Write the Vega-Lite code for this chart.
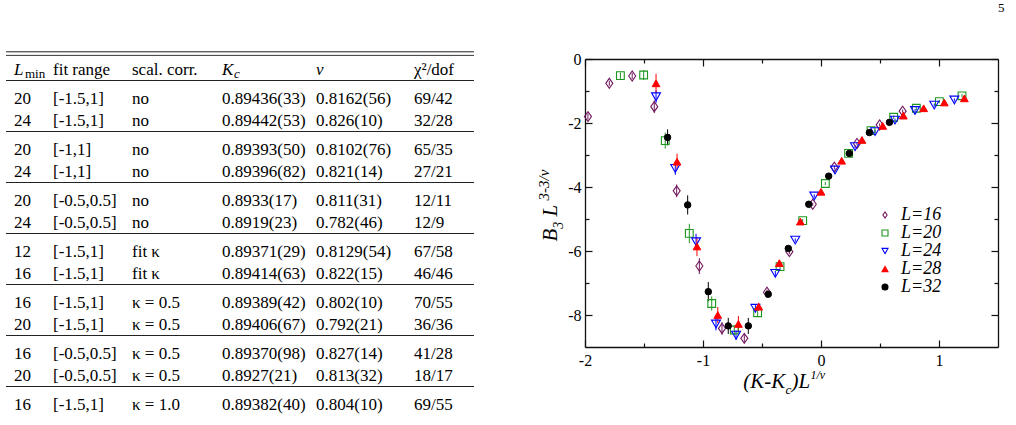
{
  "$schema": "https://vega.github.io/schema/vega-lite/v6.json",
  "background": "white",
  "padding": {"left": 5, "top": 2, "right": 0, "bottom": 0},
  "title": {"text": "5", "anchor": "end", "fontSize": 13, "font": "Liberation Serif", "fontWeight": "normal", "color": "black", "dx": 6, "offset": 36},
  "bounds": "flush",
  "spacing": 111,
  "datasets": {
    "body": [
      {"r": "1", "g": 1, "c": 0, "t": "20"}, {"r": "1", "g": 1, "c": 1, "t": "[-1.5,1]"}, {"r": "1", "g": 1, "c": 2, "t": "no"}, {"r": "1", "g": 1, "c": 3, "t": "0.89436(33)"}, {"r": "1", "g": 1, "c": 4, "t": "0.8162(56)"}, {"r": "1", "g": 1, "c": 5, "t": "69/42"},
      {"r": "2", "g": 1, "c": 0, "t": "24"}, {"r": "2", "g": 1, "c": 1, "t": "[-1.5,1]"}, {"r": "2", "g": 1, "c": 2, "t": "no"}, {"r": "2", "g": 1, "c": 3, "t": "0.89442(53)"}, {"r": "2", "g": 1, "c": 4, "t": "0.826(10)"}, {"r": "2", "g": 1, "c": 5, "t": "32/28"},
      {"r": "3", "g": 2, "c": 0, "t": "20"}, {"r": "3", "g": 2, "c": 1, "t": "[-1,1]"}, {"r": "3", "g": 2, "c": 2, "t": "no"}, {"r": "3", "g": 2, "c": 3, "t": "0.89393(50)"}, {"r": "3", "g": 2, "c": 4, "t": "0.8102(76)"}, {"r": "3", "g": 2, "c": 5, "t": "65/35"},
      {"r": "4", "g": 2, "c": 0, "t": "24"}, {"r": "4", "g": 2, "c": 1, "t": "[-1,1]"}, {"r": "4", "g": 2, "c": 2, "t": "no"}, {"r": "4", "g": 2, "c": 3, "t": "0.89396(82)"}, {"r": "4", "g": 2, "c": 4, "t": "0.821(14)"}, {"r": "4", "g": 2, "c": 5, "t": "27/21"},
      {"r": "5", "g": 3, "c": 0, "t": "20"}, {"r": "5", "g": 3, "c": 1, "t": "[-0.5,0.5]"}, {"r": "5", "g": 3, "c": 2, "t": "no"}, {"r": "5", "g": 3, "c": 3, "t": "0.8933(17)"}, {"r": "5", "g": 3, "c": 4, "t": "0.811(31)"}, {"r": "5", "g": 3, "c": 5, "t": "12/11"},
      {"r": "6", "g": 3, "c": 0, "t": "24"}, {"r": "6", "g": 3, "c": 1, "t": "[-0.5,0.5]"}, {"r": "6", "g": 3, "c": 2, "t": "no"}, {"r": "6", "g": 3, "c": 3, "t": "0.8919(23)"}, {"r": "6", "g": 3, "c": 4, "t": "0.782(46)"}, {"r": "6", "g": 3, "c": 5, "t": "12/9"},
      {"r": "7", "g": 4, "c": 0, "t": "12"}, {"r": "7", "g": 4, "c": 1, "t": "[-1.5,1]"}, {"r": "7", "g": 4, "c": 2, "t": "fit κ"}, {"r": "7", "g": 4, "c": 3, "t": "0.89371(29)"}, {"r": "7", "g": 4, "c": 4, "t": "0.8129(54)"}, {"r": "7", "g": 4, "c": 5, "t": "67/58"},
      {"r": "8", "g": 4, "c": 0, "t": "16"}, {"r": "8", "g": 4, "c": 1, "t": "[-1.5,1]"}, {"r": "8", "g": 4, "c": 2, "t": "fit κ"}, {"r": "8", "g": 4, "c": 3, "t": "0.89414(63)"}, {"r": "8", "g": 4, "c": 4, "t": "0.822(15)"}, {"r": "8", "g": 4, "c": 5, "t": "46/46"},
      {"r": "9", "g": 5, "c": 0, "t": "16"}, {"r": "9", "g": 5, "c": 1, "t": "[-1.5,1]"}, {"r": "9", "g": 5, "c": 2, "t": "κ = 0.5"}, {"r": "9", "g": 5, "c": 3, "t": "0.89389(42)"}, {"r": "9", "g": 5, "c": 4, "t": "0.802(10)"}, {"r": "9", "g": 5, "c": 5, "t": "70/55"},
      {"r": "10", "g": 5, "c": 0, "t": "20"}, {"r": "10", "g": 5, "c": 1, "t": "[-1.5,1]"}, {"r": "10", "g": 5, "c": 2, "t": "κ = 0.5"}, {"r": "10", "g": 5, "c": 3, "t": "0.89406(67)"}, {"r": "10", "g": 5, "c": 4, "t": "0.792(21)"}, {"r": "10", "g": 5, "c": 5, "t": "36/36"},
      {"r": "11", "g": 6, "c": 0, "t": "16"}, {"r": "11", "g": 6, "c": 1, "t": "[-0.5,0.5]"}, {"r": "11", "g": 6, "c": 2, "t": "κ = 0.5"}, {"r": "11", "g": 6, "c": 3, "t": "0.89370(98)"}, {"r": "11", "g": 6, "c": 4, "t": "0.827(14)"}, {"r": "11", "g": 6, "c": 5, "t": "41/28"},
      {"r": "12", "g": 6, "c": 0, "t": "20"}, {"r": "12", "g": 6, "c": 1, "t": "[-0.5,0.5]"}, {"r": "12", "g": 6, "c": 2, "t": "κ = 0.5"}, {"r": "12", "g": 6, "c": 3, "t": "0.8927(21)"}, {"r": "12", "g": 6, "c": 4, "t": "0.813(32)"}, {"r": "12", "g": 6, "c": 5, "t": "18/17"},
      {"r": "13", "g": 7, "c": 0, "t": "16"}, {"r": "13", "g": 7, "c": 1, "t": "[-1.5,1]"}, {"r": "13", "g": 7, "c": 2, "t": "κ = 1.0"}, {"r": "13", "g": 7, "c": 3, "t": "0.89382(40)"}, {"r": "13", "g": 7, "c": 4, "t": "0.804(10)"}, {"r": "13", "g": 7, "c": 5, "t": "69/55"}
    ],
    "head": [
      {"r": "h", "g": 0, "c": 1, "t": "fit range"},
      {"r": "h", "g": 0, "c": 2, "t": "scal. corr."},
      {"r": "h", "g": 0, "c": 5, "t": "χ²/dof"}
    ],
    "headMath": [
      {"r": "h", "g": 0, "c": 0, "t": "L"},
      {"r": "h", "g": 0, "c": 3, "t": "K"},
      {"r": "h", "g": 0, "c": 4, "t": "ν"}
    ],
    "subMin": [{"r": "h", "g": 0, "c": 0, "t": "min"}],
    "subC": [{"r": "h", "g": 0, "c": 3, "t": "c"}],
    "seps": [
      {"r": "h", "g": 0}, {"r": "2", "g": 1}, {"r": "4", "g": 2}, {"r": "6", "g": 3},
      {"r": "8", "g": 4}, {"r": "10", "g": 5}, {"r": "12", "g": 6}
    ],
    "topRule": [{"r": "h"}],
    "pts": [
      {"L": "L=16", "x": -1.975, "y": -1.80, "lo": -1.90, "hi": -1.70},
      {"L": "L=16", "x": -1.794, "y": -0.76, "lo": -0.84, "hi": -0.68},
      {"L": "L=16", "x": -1.60, "y": -0.53, "lo": -0.63, "hi": -0.43},
      {"L": "L=16", "x": -1.413, "y": -1.49, "lo": -1.69, "hi": -1.29},
      {"L": "L=16", "x": -1.223, "y": -4.12, "lo": -4.32, "hi": -3.92},
      {"L": "L=16", "x": -1.031, "y": -6.47, "lo": -6.72, "hi": -6.22},
      {"L": "L=16", "x": -0.839, "y": -8.42, "lo": -8.62, "hi": -8.22},
      {"L": "L=16", "x": -0.65, "y": -8.73, "lo": -8.85, "hi": -8.61},
      {"L": "L=16", "x": -0.458, "y": -7.29, "lo": -7.37, "hi": -7.21},
      {"L": "L=16", "x": -0.268, "y": -6.02, "lo": -6.10, "hi": -5.94},
      {"L": "L=16", "x": -0.07, "y": -4.54, "lo": -4.59, "hi": -4.49},
      {"L": "L=16", "x": 0.113, "y": -3.38, "lo": -3.43, "hi": -3.33},
      {"L": "L=16", "x": 0.305, "y": -2.64, "lo": -2.69, "hi": -2.59},
      {"L": "L=16", "x": 0.497, "y": -2.06, "lo": -2.11, "hi": -2.01},
      {"L": "L=16", "x": 0.692, "y": -1.63, "lo": -1.68, "hi": -1.58},
      {"L": "L=20", "x": -1.70, "y": -0.52, "lo": -0.62, "hi": -0.42},
      {"L": "L=20", "x": -1.503, "y": -0.50, "lo": -0.65, "hi": -0.35},
      {"L": "L=20", "x": -1.32, "y": -2.55, "lo": -2.80, "hi": -2.30},
      {"L": "L=20", "x": -1.116, "y": -5.45, "lo": -5.75, "hi": -5.15},
      {"L": "L=20", "x": -0.926, "y": -7.64, "lo": -7.86, "hi": -7.42},
      {"L": "L=20", "x": -0.735, "y": -8.47, "lo": -8.62, "hi": -8.32},
      {"L": "L=20", "x": -0.537, "y": -7.93, "lo": -8.05, "hi": -7.81},
      {"L": "L=20", "x": -0.347, "y": -6.49, "lo": -6.57, "hi": -6.41},
      {"L": "L=20", "x": -0.155, "y": -5.05, "lo": -5.10, "hi": -5.00},
      {"L": "L=20", "x": 0.037, "y": -3.89, "lo": -3.94, "hi": -3.84},
      {"L": "L=20", "x": 0.234, "y": -2.95, "lo": -3.00, "hi": -2.90},
      {"L": "L=20", "x": 0.424, "y": -2.24, "lo": -2.29, "hi": -2.19},
      {"L": "L=20", "x": 0.616, "y": -1.82, "lo": -1.87, "hi": -1.77},
      {"L": "L=20", "x": 0.808, "y": -1.54, "lo": -1.59, "hi": -1.49},
      {"L": "L=20", "x": 1.003, "y": -1.33, "lo": -1.38, "hi": -1.28},
      {"L": "L=20", "x": 1.195, "y": -1.15, "lo": -1.20, "hi": -1.10},
      {"L": "L=24", "x": -1.398, "y": -1.18, "lo": -1.38, "hi": -0.98},
      {"L": "L=24", "x": -1.235, "y": -3.42, "lo": -3.62, "hi": -3.22},
      {"L": "L=24", "x": -1.059, "y": -5.71, "lo": -5.96, "hi": -5.46},
      {"L": "L=24", "x": -0.89, "y": -8.28, "lo": -8.48, "hi": -8.08},
      {"L": "L=24", "x": -0.72, "y": -8.63, "lo": -8.78, "hi": -8.48},
      {"L": "L=24", "x": -0.556, "y": -7.79, "lo": -7.89, "hi": -7.69},
      {"L": "L=24", "x": -0.387, "y": -6.70, "lo": -6.78, "hi": -6.62},
      {"L": "L=24", "x": -0.218, "y": -5.66, "lo": -5.71, "hi": -5.61},
      {"L": "L=24", "x": -0.057, "y": -4.28, "lo": -4.33, "hi": -4.23},
      {"L": "L=24", "x": 0.119, "y": -3.47, "lo": -3.52, "hi": -3.42},
      {"L": "L=24", "x": 0.288, "y": -2.74, "lo": -2.79, "hi": -2.69},
      {"L": "L=24", "x": 0.458, "y": -2.27, "lo": -2.32, "hi": -2.22},
      {"L": "L=24", "x": 0.627, "y": -1.91, "lo": -1.96, "hi": -1.86},
      {"L": "L=24", "x": 0.797, "y": -1.61, "lo": -1.66, "hi": -1.56},
      {"L": "L=24", "x": 0.96, "y": -1.44, "lo": -1.49, "hi": -1.39},
      {"L": "L=24", "x": 1.13, "y": -1.28, "lo": -1.33, "hi": -1.23},
      {"L": "L=28", "x": -1.398, "y": -0.76, "lo": -1.06, "hi": -0.46},
      {"L": "L=28", "x": -1.22, "y": -3.21, "lo": -3.46, "hi": -2.96},
      {"L": "L=28", "x": -1.051, "y": -5.86, "lo": -6.16, "hi": -5.56},
      {"L": "L=28", "x": -0.875, "y": -8.00, "lo": -8.25, "hi": -7.75},
      {"L": "L=28", "x": -0.70, "y": -8.28, "lo": -8.53, "hi": -8.03},
      {"L": "L=28", "x": -0.528, "y": -7.74, "lo": -7.86, "hi": -7.62},
      {"L": "L=28", "x": -0.353, "y": -6.38, "lo": -6.48, "hi": -6.28},
      {"L": "L=28", "x": -0.175, "y": -5.08, "lo": -5.13, "hi": -5.03},
      {"L": "L=28", "x": 0.0, "y": -4.15, "lo": -4.20, "hi": -4.10},
      {"L": "L=28", "x": 0.175, "y": -3.18, "lo": -3.23, "hi": -3.13},
      {"L": "L=28", "x": 0.347, "y": -2.53, "lo": -2.58, "hi": -2.48},
      {"L": "L=28", "x": 0.523, "y": -2.09, "lo": -2.14, "hi": -2.04},
      {"L": "L=28", "x": 0.698, "y": -1.77, "lo": -1.82, "hi": -1.72},
      {"L": "L=28", "x": 0.87, "y": -1.54, "lo": -1.59, "hi": -1.49},
      {"L": "L=28", "x": 1.045, "y": -1.36, "lo": -1.41, "hi": -1.31},
      {"L": "L=28", "x": 1.215, "y": -1.23, "lo": -1.28, "hi": -1.18},
      {"L": "L=32", "x": -1.30, "y": -2.45, "lo": -2.70, "hi": -2.20},
      {"L": "L=32", "x": -1.13, "y": -4.56, "lo": -4.86, "hi": -4.26},
      {"L": "L=32", "x": -0.955, "y": -7.27, "lo": -7.57, "hi": -6.97},
      {"L": "L=32", "x": -0.786, "y": -8.34, "lo": -8.59, "hi": -8.09},
      {"L": "L=32", "x": -0.616, "y": -8.34, "lo": -8.59, "hi": -8.09},
      {"L": "L=32", "x": -0.447, "y": -7.35, "lo": -7.43, "hi": -7.27},
      {"L": "L=32", "x": -0.277, "y": -5.92, "lo": -6.00, "hi": -5.84},
      {"L": "L=32", "x": -0.104, "y": -4.54, "lo": -4.59, "hi": -4.49},
      {"L": "L=32", "x": 0.065, "y": -3.66, "lo": -3.71, "hi": -3.61},
      {"L": "L=32", "x": 0.24, "y": -2.95, "lo": -3.00, "hi": -2.90},
      {"L": "L=32", "x": 0.41, "y": -2.30, "lo": -2.35, "hi": -2.25},
      {"L": "L=32", "x": 0.58, "y": -1.98, "lo": -2.03, "hi": -1.93}
    ]
  },
  "hconcat": [
    {
      "width": 468,
      "height": 301,
      "resolve": {"scale": {"yOffset": "independent"}},
      "layer": [
        {
          "data": {"name": "body"},
          "mark": {"type": "text", "align": "left", "baseline": "middle", "font": "Liberation Serif", "fontSize": 17, "color": "black"},
          "encoding": {
            "x": {"field": "c", "type": "quantitative", "axis": null, "scale": {"domain": [0, 1, 2, 3, 4, 5], "range": [8, 47, 126, 216, 310, 408], "nice": false, "zero": false}},
            "y": {"field": "r", "type": "ordinal", "axis": null, "scale": {"domain": ["h", "1", "2", "3", "4", "5", "6", "7", "8", "9", "10", "11", "12", "13"], "paddingInner": 0, "paddingOuter": 0}},
            "yOffset": {"field": "g", "type": "quantitative", "scale": {"domain": [0, 7], "range": [10.75, 66.75], "nice": false, "zero": false}},
            "text": {"field": "t", "type": "nominal"}
          }
        },
        {
          "data": {"name": "head"},
          "mark": {"type": "text", "align": "left", "baseline": "middle", "font": "Liberation Serif", "fontSize": 17, "color": "black"},
          "encoding": {
            "x": {"field": "c", "type": "quantitative", "axis": null, "scale": {"domain": [0, 1, 2, 3, 4, 5], "range": [8, 47, 126, 216, 310, 408], "nice": false, "zero": false}},
            "y": {"field": "r", "type": "ordinal", "axis": null, "scale": {"domain": ["h", "1", "2", "3", "4", "5", "6", "7", "8", "9", "10", "11", "12", "13"], "paddingInner": 0, "paddingOuter": 0}},
            "yOffset": {"field": "g", "type": "quantitative", "scale": {"domain": [0, 7], "range": [10.75, 66.75], "nice": false, "zero": false}},
            "text": {"field": "t", "type": "nominal"}
          }
        },
        {
          "data": {"name": "headMath"},
          "mark": {"type": "text", "align": "left", "baseline": "middle", "font": "Liberation Serif", "fontStyle": "italic", "fontSize": 17, "color": "black"},
          "encoding": {
            "x": {"field": "c", "type": "quantitative", "axis": null, "scale": {"domain": [0, 1, 2, 3, 4, 5], "range": [8, 47, 126, 216, 310, 408], "nice": false, "zero": false}},
            "y": {"field": "r", "type": "ordinal", "axis": null, "scale": {"domain": ["h", "1", "2", "3", "4", "5", "6", "7", "8", "9", "10", "11", "12", "13"], "paddingInner": 0, "paddingOuter": 0}},
            "yOffset": {"field": "g", "type": "quantitative", "scale": {"domain": [0, 7], "range": [10.75, 66.75], "nice": false, "zero": false}},
            "text": {"field": "t", "type": "nominal"}
          }
        },
        {
          "data": {"name": "subMin"},
          "mark": {"type": "text", "align": "left", "baseline": "middle", "font": "Liberation Serif", "fontSize": 13, "color": "black", "dx": 11, "dy": 4},
          "encoding": {
            "x": {"field": "c", "type": "quantitative", "axis": null, "scale": {"domain": [0, 1, 2, 3, 4, 5], "range": [8, 47, 126, 216, 310, 408], "nice": false, "zero": false}},
            "y": {"field": "r", "type": "ordinal", "axis": null, "scale": {"domain": ["h", "1", "2", "3", "4", "5", "6", "7", "8", "9", "10", "11", "12", "13"], "paddingInner": 0, "paddingOuter": 0}},
            "yOffset": {"field": "g", "type": "quantitative", "scale": {"domain": [0, 7], "range": [10.75, 66.75], "nice": false, "zero": false}},
            "text": {"field": "t", "type": "nominal"}
          }
        },
        {
          "data": {"name": "subC"},
          "mark": {"type": "text", "align": "left", "baseline": "middle", "font": "Liberation Serif", "fontStyle": "italic", "fontSize": 13, "color": "black", "dx": 12, "dy": 4},
          "encoding": {
            "x": {"field": "c", "type": "quantitative", "axis": null, "scale": {"domain": [0, 1, 2, 3, 4, 5], "range": [8, 47, 126, 216, 310, 408], "nice": false, "zero": false}},
            "y": {"field": "r", "type": "ordinal", "axis": null, "scale": {"domain": ["h", "1", "2", "3", "4", "5", "6", "7", "8", "9", "10", "11", "12", "13"], "paddingInner": 0, "paddingOuter": 0}},
            "yOffset": {"field": "g", "type": "quantitative", "scale": {"domain": [0, 7], "range": [10.75, 66.75], "nice": false, "zero": false}},
            "text": {"field": "t", "type": "nominal"}
          }
        },
        {
          "data": {"name": "seps"},
          "mark": {"type": "rule", "color": "#222222", "strokeWidth": 1},
          "encoding": {
            "y": {"field": "r", "type": "ordinal", "axis": null, "scale": {"domain": ["h", "1", "2", "3", "4", "5", "6", "7", "8", "9", "10", "11", "12", "13"], "paddingInner": 0, "paddingOuter": 0}},
            "yOffset": {"field": "g", "type": "quantitative", "scale": {"domain": [0, 7], "range": [21.5, 77.5], "nice": false, "zero": false}}
          }
        },
        {
          "data": {"name": "topRule"},
          "mark": {"type": "rule", "color": "#222222", "strokeWidth": 1, "yOffset": -7.2},
          "encoding": {
            "y": {"field": "r", "type": "ordinal", "axis": null, "bandPosition": 0, "scale": {"domain": ["h", "1", "2", "3", "4", "5", "6", "7", "8", "9", "10", "11", "12", "13"], "paddingInner": 0, "paddingOuter": 0}}
          }
        },
        {
          "data": {"name": "topRule"},
          "mark": {"type": "rule", "color": "#222222", "strokeWidth": 0.9, "yOffset": -3.6},
          "encoding": {
            "y": {"field": "r", "type": "ordinal", "axis": null, "bandPosition": 0, "scale": {"domain": ["h", "1", "2", "3", "4", "5", "6", "7", "8", "9", "10", "11", "12", "13"], "paddingInner": 0, "paddingOuter": 0}}
          }
        }
      ]
    },
    {
      "width": 413,
      "height": 288,
      "data": {"name": "pts"},
      "resolve": {"axis": {"x": "independent", "y": "independent"}},
      "layer": [
        {
          "mark": {"type": "rule", "strokeWidth": 1},
          "encoding": {
            "x": {"field": "x", "type": "quantitative", "scale": {"domain": [-2, 1.5], "nice": false, "zero": false},
              "axis": {"orient": "bottom", "values": [-2, -1, 0, 1], "labelExpr": "datum.value < 0 ? '-' + abs(datum.value) : '' + datum.value", "tickSize": -7, "labelPadding": 12, "domain": true,
                "title": "(K-K", "titleX": 157.7, "titleY": 40, "titleFontSize": 21, "titleAngle": 0, "titleAlign": "left", "titleBaseline": "alphabetic"}},
            "y": {"field": "lo", "type": "quantitative", "scale": {"domain": [-9, 0], "nice": false, "zero": false},
              "axis": {"orient": "left", "values": [0, -2, -4, -6, -8], "labelExpr": "datum.value < 0 ? '-' + abs(datum.value) : '' + datum.value", "tickSize": -7, "labelPadding": 11, "domain": true,
                "title": "B", "titleX": -29, "titleY": 182, "titleFontSize": 21, "titleAngle": -90, "titleAlign": "left", "titleBaseline": "alphabetic"}},
            "y2": {"field": "hi"},
            "stroke": {"field": "L", "type": "nominal", "scale": {"domain": ["L=16", "L=20", "L=24", "L=28", "L=32"], "range": ["#72185e", "#1c961c", "#0000ff", "#ff0000", "#000000"]},
              "legend": {"orient": "none", "legendX": 870, "legendY": 147, "title": null}}
          }
        },
        {
          "transform": [{"filter": {"field": "L", "equal": "L=16"}}],
          "mark": {"type": "point", "filled": true, "opacity": 1, "strokeWidth": 1.1, "size": 100},
          "encoding": {
            "x": {"field": "x", "type": "quantitative", "scale": {"domain": [-2, 1.5], "nice": false, "zero": false},
              "axis": {"orient": "bottom", "values": [-1.5, -0.5, 0.5], "labels": false, "domain": false, "tickSize": -4,
                "title": "c", "titleX": 200, "titleY": 46, "titleFontSize": 13, "titleAngle": 0, "titleAlign": "left", "titleBaseline": "alphabetic"}},
            "y": {"field": "y", "type": "quantitative", "scale": {"domain": [-9, 0], "nice": false, "zero": false},
              "axis": {"orient": "left", "values": [-1, -3, -5, -7], "labels": false, "domain": false, "tickSize": -4,
                "title": "3", "titleX": -23, "titleY": 169.2, "titleFontSize": 14, "titleAngle": -90, "titleAlign": "left", "titleBaseline": "alphabetic"}},
            "stroke": {"field": "L", "type": "nominal", "scale": {"domain": ["L=16", "L=20", "L=24", "L=28", "L=32"], "range": ["#72185e", "#1c961c", "#0000ff", "#ff0000", "#000000"]},
              "legend": {"orient": "none", "legendX": 870, "legendY": 147, "title": null}},
            "fill": {"field": "L", "type": "nominal", "scale": {"domain": ["L=16", "L=20", "L=24", "L=28", "L=32"], "range": ["transparent", "transparent", "transparent", "#ff0000", "#000000"]},
              "legend": {"orient": "none", "legendX": 870, "legendY": 147, "title": null}},
            "shape": {"field": "L", "type": "nominal", "scale": {"domain": ["L=16", "L=20", "L=24", "L=28", "L=32"], "range": ["M-0.7,0L0,-1L0.7,0L0,1Z", "square", "triangle-down", "triangle-up", "circle"]},
              "legend": {"orient": "none", "legendX": 870, "legendY": 147, "title": null}}
          }
        },
        {
          "transform": [{"filter": {"field": "L", "equal": "L=20"}}],
          "mark": {"type": "point", "filled": true, "opacity": 1, "strokeWidth": 1.1, "size": 60},
          "encoding": {
            "x": {"field": "x", "type": "quantitative", "scale": {"domain": [-2, 1.5], "nice": false, "zero": false},
              "axis": {"orient": "top", "values": [-2, -1, 0, 1], "labels": false, "domain": true, "tickSize": -7,
                "title": ")L", "titleX": 206, "titleY": 328, "titleFontSize": 21, "titleAngle": 0, "titleAlign": "left", "titleBaseline": "alphabetic"}},
            "y": {"field": "y", "type": "quantitative", "scale": {"domain": [-9, 0], "nice": false, "zero": false},
              "axis": {"orient": "right", "values": [0, -2, -4, -6, -8], "labels": false, "domain": true, "tickSize": -7,
                "title": "L", "titleX": -442, "titleY": 157, "titleFontSize": 21, "titleAngle": -90, "titleAlign": "left", "titleBaseline": "alphabetic"}},
            "stroke": {"field": "L", "type": "nominal", "scale": {"domain": ["L=16", "L=20", "L=24", "L=28", "L=32"], "range": ["#72185e", "#1c961c", "#0000ff", "#ff0000", "#000000"]},
              "legend": {"orient": "none", "legendX": 870, "legendY": 147, "title": null}},
            "fill": {"field": "L", "type": "nominal", "scale": {"domain": ["L=16", "L=20", "L=24", "L=28", "L=32"], "range": ["transparent", "transparent", "transparent", "#ff0000", "#000000"]},
              "legend": {"orient": "none", "legendX": 870, "legendY": 147, "title": null}},
            "shape": {"field": "L", "type": "nominal", "scale": {"domain": ["L=16", "L=20", "L=24", "L=28", "L=32"], "range": ["M-0.7,0L0,-1L0.7,0L0,1Z", "square", "triangle-down", "triangle-up", "circle"]},
              "legend": {"orient": "none", "legendX": 870, "legendY": 147, "title": null}}
          }
        },
        {
          "transform": [{"filter": {"field": "L", "equal": "L=24"}}],
          "mark": {"type": "point", "filled": true, "opacity": 1, "strokeWidth": 1.1, "size": 80},
          "encoding": {
            "x": {"field": "x", "type": "quantitative", "scale": {"domain": [-2, 1.5], "nice": false, "zero": false},
              "axis": {"orient": "top", "values": [-1.5, -0.5, 0.5], "labels": false, "domain": false, "tickSize": -4,
                "title": "1/ν", "titleX": 225, "titleY": 319, "titleFontSize": 12, "titleAngle": 0, "titleAlign": "left", "titleBaseline": "alphabetic"}},
            "y": {"field": "y", "type": "quantitative", "scale": {"domain": [-9, 0], "nice": false, "zero": false},
              "axis": {"orient": "right", "values": [-1, -3, -5, -7], "labels": false, "domain": false, "tickSize": -4,
                "title": "3-3/ν", "titleX": -450, "titleY": 141, "titleFontSize": 15, "titleAngle": -90, "titleAlign": "left", "titleBaseline": "alphabetic"}},
            "stroke": {"field": "L", "type": "nominal", "scale": {"domain": ["L=16", "L=20", "L=24", "L=28", "L=32"], "range": ["#72185e", "#1c961c", "#0000ff", "#ff0000", "#000000"]},
              "legend": {"orient": "none", "legendX": 870, "legendY": 147, "title": null}},
            "fill": {"field": "L", "type": "nominal", "scale": {"domain": ["L=16", "L=20", "L=24", "L=28", "L=32"], "range": ["transparent", "transparent", "transparent", "#ff0000", "#000000"]},
              "legend": {"orient": "none", "legendX": 870, "legendY": 147, "title": null}},
            "shape": {"field": "L", "type": "nominal", "scale": {"domain": ["L=16", "L=20", "L=24", "L=28", "L=32"], "range": ["M-0.7,0L0,-1L0.7,0L0,1Z", "square", "triangle-down", "triangle-up", "circle"]},
              "legend": {"orient": "none", "legendX": 870, "legendY": 147, "title": null}}
          }
        },
        {
          "transform": [{"filter": {"field": "L", "equal": "L=28"}}],
          "mark": {"type": "point", "filled": true, "opacity": 1, "strokeWidth": 1, "size": 60},
          "encoding": {
            "x": {"field": "x", "type": "quantitative", "axis": null, "scale": {"domain": [-2, 1.5], "nice": false, "zero": false}},
            "y": {"field": "y", "type": "quantitative", "axis": null, "scale": {"domain": [-9, 0], "nice": false, "zero": false}},
            "stroke": {"field": "L", "type": "nominal", "scale": {"domain": ["L=16", "L=20", "L=24", "L=28", "L=32"], "range": ["#72185e", "#1c961c", "#0000ff", "#ff0000", "#000000"]},
              "legend": {"orient": "none", "legendX": 870, "legendY": 147, "title": null}},
            "fill": {"field": "L", "type": "nominal", "scale": {"domain": ["L=16", "L=20", "L=24", "L=28", "L=32"], "range": ["transparent", "transparent", "transparent", "#ff0000", "#000000"]},
              "legend": {"orient": "none", "legendX": 870, "legendY": 147, "title": null}},
            "shape": {"field": "L", "type": "nominal", "scale": {"domain": ["L=16", "L=20", "L=24", "L=28", "L=32"], "range": ["M-0.7,0L0,-1L0.7,0L0,1Z", "square", "triangle-down", "triangle-up", "circle"]},
              "legend": {"orient": "none", "legendX": 870, "legendY": 147, "title": null}}
          }
        },
        {
          "transform": [{"filter": {"field": "L", "equal": "L=32"}}],
          "mark": {"type": "point", "filled": true, "opacity": 1, "strokeWidth": 1, "size": 42},
          "encoding": {
            "x": {"field": "x", "type": "quantitative", "axis": null, "scale": {"domain": [-2, 1.5], "nice": false, "zero": false}},
            "y": {"field": "y", "type": "quantitative", "axis": null, "scale": {"domain": [-9, 0], "nice": false, "zero": false}},
            "stroke": {"field": "L", "type": "nominal", "scale": {"domain": ["L=16", "L=20", "L=24", "L=28", "L=32"], "range": ["#72185e", "#1c961c", "#0000ff", "#ff0000", "#000000"]},
              "legend": {"orient": "none", "legendX": 870, "legendY": 147, "title": null}},
            "fill": {"field": "L", "type": "nominal", "scale": {"domain": ["L=16", "L=20", "L=24", "L=28", "L=32"], "range": ["transparent", "transparent", "transparent", "#ff0000", "#000000"]},
              "legend": {"orient": "none", "legendX": 870, "legendY": 147, "title": null}},
            "shape": {"field": "L", "type": "nominal", "scale": {"domain": ["L=16", "L=20", "L=24", "L=28", "L=32"], "range": ["M-0.7,0L0,-1L0.7,0L0,1Z", "square", "triangle-down", "triangle-up", "circle"]},
              "legend": {"orient": "none", "legendX": 870, "legendY": 147, "title": null}}
          }
        }
      ]
    }
  ],
  "config": {
    "font": "Liberation Serif",
    "view": {"stroke": null},
    "axis": {
      "grid": false,
      "domainColor": "#111111",
      "domainWidth": 1.3,
      "tickColor": "#111111",
      "tickWidth": 1.2,
      "labelFont": "Liberation Serif",
      "labelFontSize": 16,
      "labelColor": "black",
      "labelFlush": false,
      "labelOverlap": false,
      "titleFont": "Liberation Serif",
      "titleFontStyle": "italic",
      "titleFontWeight": "normal",
      "titleColor": "black"
    },
    "legend": {
      "padding": 0,
      "labelFont": "Liberation Serif",
      "labelFontStyle": "italic",
      "labelFontSize": 18,
      "labelColor": "black",
      "labelOffset": 7,
      "symbolSize": 36,
      "symbolStrokeWidth": 1.1,
      "symbolOpacity": 1,
      "rowPadding": 0
    }
  }
}
